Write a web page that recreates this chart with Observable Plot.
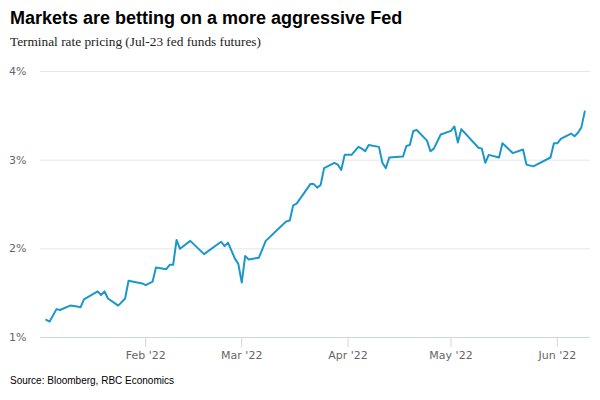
<!DOCTYPE html>
<html>
<head>
<meta charset="utf-8">
<script src="https://cdn.jsdelivr.net/npm/d3@7"></script>
<script src="https://cdn.jsdelivr.net/npm/@observablehq/plot@0.6"></script>
<style>
  html, body { margin: 0; padding: 0; background: #fff; }
  #wrap { position: relative; width: 600px; height: 400px; overflow: hidden; }
  #title { position: absolute; left: 10px; top: 8px; font: bold 18px "Liberation Sans", Arial, sans-serif; color: #000; line-height: 20px; white-space: nowrap; }
  #subtitle { position: absolute; left: 10px; top: 34px; font: 13.3px "Liberation Serif", "Times New Roman", serif; color: #222; line-height: 16px; white-space: nowrap; }
  #chart { position: absolute; left: 0; top: 55px; }
  #caption { position: absolute; left: 10px; top: 375px; font: 10px "Liberation Sans", Arial, sans-serif; color: #000; line-height: 12px; white-space: nowrap; }
</style>
</head>
<body>
<div id="wrap">
  <div id="title">Markets are betting on a more aggressive Fed</div>
  <div id="subtitle">Terminal rate pricing (Jul-23 fed funds futures)</div>
  <div id="chart"></div>
  <div id="caption">Source: Bloomberg, RBC Economics</div>
</div>
<script>
const dates = [
  "2022-01-03","2022-01-04","2022-01-06","2022-01-07","2022-01-10","2022-01-12","2022-01-13","2022-01-14",
  "2022-01-18","2022-01-19","2022-01-20","2022-01-21","2022-01-24","2022-01-26","2022-01-27","2022-01-31",
  "2022-02-01","2022-02-03","2022-02-04","2022-02-07","2022-02-08","2022-02-09","2022-02-10","2022-02-11",
  "2022-02-14","2022-02-18","2022-02-23","2022-02-24","2022-02-25","2022-02-27","2022-02-28","2022-03-01",
  "2022-03-02","2022-03-03","2022-03-06","2022-03-08","2022-03-14","2022-03-15","2022-03-16","2022-03-17",
  "2022-03-21","2022-03-22","2022-03-23","2022-03-24","2022-03-25","2022-03-28","2022-03-29","2022-03-30",
  "2022-03-31","2022-04-02","2022-04-04","2022-04-05","2022-04-06","2022-04-07","2022-04-10","2022-04-11",
  "2022-04-12","2022-04-13","2022-04-17","2022-04-18","2022-04-19","2022-04-20","2022-04-21","2022-04-24",
  "2022-04-25","2022-04-26","2022-04-28","2022-05-01","2022-05-02","2022-05-03","2022-05-04","2022-05-09",
  "2022-05-10","2022-05-11","2022-05-12","2022-05-15","2022-05-16","2022-05-19","2022-05-22","2022-05-23",
  "2022-05-25","2022-05-30","2022-05-31","2022-06-01","2022-06-02","2022-06-05","2022-06-06","2022-06-07",
  "2022-06-08","2022-06-09"
];
const rates = [
  1.20,1.18,1.32,1.31,1.36,1.35,1.34,1.43,
  1.52,1.48,1.52,1.44,1.36,1.44,1.64,1.61,
  1.59,1.63,1.79,1.77,1.82,1.82,2.10,2.00,
  2.09,1.94,2.08,2.03,2.07,1.89,1.83,1.62,
  1.92,1.88,1.90,2.09,2.31,2.32,2.49,2.51,
  2.73,2.73,2.69,2.72,2.91,2.97,2.95,2.89,
  3.06,3.06,3.15,3.13,3.10,3.17,3.15,2.97,
  2.91,3.03,3.04,3.16,3.17,3.33,3.34,3.22,
  3.10,3.13,3.29,3.33,3.38,3.20,3.35,3.14,
  3.13,2.97,3.06,3.03,3.19,3.08,3.12,2.95,
  2.93,3.03,3.19,3.19,3.24,3.30,3.27,3.31,
  3.37,3.55
];
const yTicks = [1, 2, 3, 4];
const xTicks = ["2022-02-01","2022-03-01","2022-04-01","2022-05-01","2022-06-01"];
const xDomain = ["2022-01-01T08:00Z","2022-06-10T16:00Z"];

const data = dates.map((d, i) => ({date: new Date(d + "T00:00Z"), value: rates[i]}));

const chart = Plot.plot({
  width: 600,
  height: 312,
  marginTop: 16,
  marginLeft: 40,
  marginRight: 10,
  marginBottom: 30,
  style: {fontFamily: "'DejaVu Sans', Verdana, sans-serif", fontSize: "11px", color: "#666666", background: "transparent", overflow: "visible"},
  x: {type: "utc", domain: xDomain.map(d => new Date(d)), label: null},
  y: {domain: [1, 4], label: null},
  marks: [
    Plot.gridY(yTicks.slice(1), {stroke: "#e6e6e6", strokeOpacity: 1}),
    Plot.ruleY([1], {stroke: "#ccd6eb"}),
    Plot.axisY(yTicks, {tickSize: 0, tickPadding: 14, tickFormat: d => d + "%", fill: "#666666", label: null}),
    Plot.axisX(xTicks.map(d => new Date(d + "T00:00Z")), {tickSize: 10, stroke: "#ccd6eb", strokeOpacity: 1, tickPadding: 4, tickFormat: d3.utcFormat("%b '%y"), fill: "#666666", label: null}),
    Plot.lineY(data, {x: "date", y: "value", stroke: "#1b98c9", strokeWidth: 2})
  ]
});
document.getElementById("chart").appendChild(chart);
</script>
</body>
</html>
